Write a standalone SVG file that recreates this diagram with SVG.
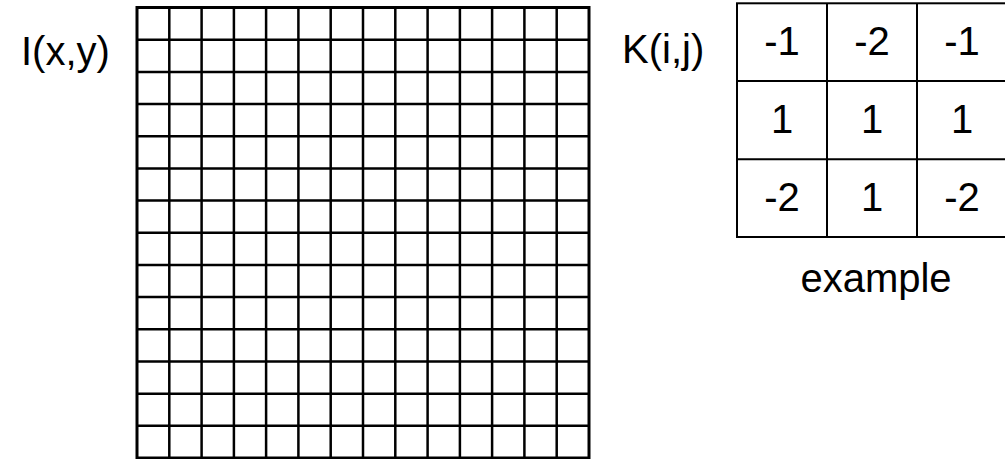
<svg xmlns="http://www.w3.org/2000/svg" width="1005" height="459" viewBox="0 0 1005 459">
<style>
  .lbl { font-family: "Liberation Sans", Arial, sans-serif; font-size: 40px; fill: #000; }
  .num { font-family: "Liberation Sans", Arial, sans-serif; font-size: 40px; fill: #000; text-anchor: middle; }
  .inner { fill: none; stroke: #000; stroke-width: 2.5; }
  .outer { fill: none; stroke: #000; stroke-width: 3; }
  .kline { fill: none; stroke: #000; stroke-width: 2; }
</style>
<rect x="0" y="0" width="1005" height="459" fill="#fff"/>
<g id="image-grid">
  <path class="inner" d="M169.3 7.5V458M201.6 7.5V458M233.9 7.5V458M266.1 7.5V458M298.4 7.5V458M330.7 7.5V458M363 7.5V458M395.3 7.5V458M427.6 7.5V458M459.9 7.5V458M492.1 7.5V458M524.4 7.5V458M556.7 7.5V458
  M137 39.7H589M137 71.9H589M137 104H589M137 136.2H589M137 168.4H589M137 200.6H589M137 232.8H589M137 264.9H589M137 297.1H589M137 329.3H589M137 361.5H589M137 393.7H589M137 425.8H589"/>
  <rect class="outer" x="137" y="7.5" width="452" height="450.5"/>
</g>
<g id="label-I">
  <text class="lbl" x="21" y="65">I(x,y)</text>
</g>
<g id="label-K">
  <text class="lbl" x="622" y="63">K(i,j)</text>
</g>
<g id="kernel">
  <rect class="kline" x="737" y="3.3" width="272" height="233.7"/>
  <path class="kline" d="M827 3.3V237M917 3.3V237M737 81H1009M737 159.3H1009"/>
  <text class="num" x="782" y="55">-1</text>
  <text class="num" x="872" y="55">-2</text>
  <text class="num" x="962" y="55">-1</text>
  <text class="num" x="782" y="133">1</text>
  <text class="num" x="872" y="133">1</text>
  <text class="num" x="962" y="133">1</text>
  <text class="num" x="782" y="210.5">-2</text>
  <text class="num" x="872" y="210.5">1</text>
  <text class="num" x="962" y="210.5">-2</text>
</g>
<g id="label-example">
  <text class="num" x="876" y="291.5">example</text>
</g>
<g id="connectors"/>
</svg>
